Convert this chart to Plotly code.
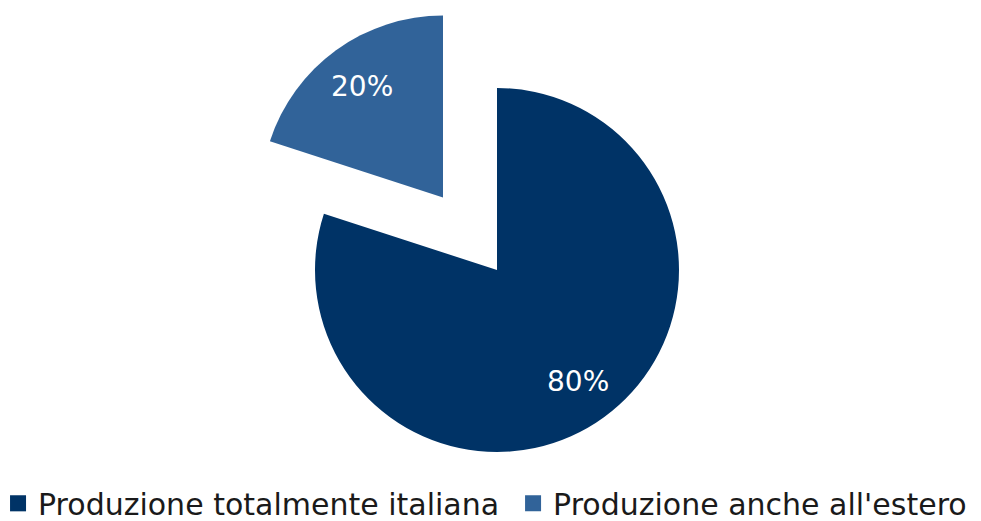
import math
import plotly.graph_objects as go

# Share of production: fully Italian vs. partly abroad
labels = ["Produzione totalmente italiana", "Produzione anche all'estero"]
values = [80, 20]
colors = ["#003366", "#316399"]

FONT = "DejaVu Sans"
W, H = 981, 521
R = 182            # pie radius in px
clear = "rgba(0,0,0,0)"

# Centres (px from top-left) of the main pie and of the detached slice
main_c = (497, 270)
pulled_c = (443, 197.5)


def domain_for(c):
    cx, cy = c
    return dict(x=[(cx - R) / W, (cx + R) / W],
                y=[1 - (cy + R) / H, 1 - (cy - R) / H])


total = sum(values)
fig = go.Figure()

# The 80% slice and the exploded 20% slice are drawn as two pies on offset
# domains; the slice not shown in each is left transparent.
for i, c in enumerate([main_c, pulled_c]):
    slice_cols = [colors[j] if j == i else clear for j in range(len(values))]
    fig.add_trace(go.Pie(
        labels=labels, values=values, sort=False, direction="clockwise",
        rotation=0, marker=dict(colors=slice_cols, line=dict(width=0)),
        textinfo="none", domain=domain_for(c), showlegend=False,
        hoverinfo="label+percent",
    ))

# Percentage labels, placed along each slice's bisector
start = 90.0
for i, (v, c) in enumerate(zip(values, [main_c, pulled_c])):
    sweep = 360.0 * v / total
    mid = math.radians(start - sweep / 2)
    start -= sweep
    px = c[0] + 0.755 * R * math.cos(mid)
    py = c[1] - 0.755 * R * math.sin(mid)
    fig.add_annotation(
        x=px / W, y=1 - py / H, xref="paper", yref="paper",
        text=f"{100 * v / total:.0f}%", showarrow=False,
        xanchor="center", yanchor="middle",
        font=dict(family=FONT, size=28, color="white"),
    )

# Legend entries, one per legend box so each can be positioned on its own
legend_ids = ["legend", "legend2"]
for name, c, lg in zip(labels, colors, legend_ids):
    fig.add_trace(go.Scatter(
        x=[None], y=[None], mode="markers", name=name, legend=lg,
        marker=dict(symbol="square", size=17, color=c),
    ))

legend_style = dict(
    orientation="h", xanchor="left", y=-0.016, yanchor="bottom",
    font=dict(family=FONT, size=30, color="#1a1a1a"),
    itemsizing="trace", bgcolor=clear,
)

fig.update_layout(
    width=W, height=H,
    margin=dict(l=0, r=0, t=0, b=0, autoexpand=False),
    paper_bgcolor="white", plot_bgcolor="white",
    xaxis=dict(visible=False), yaxis=dict(visible=False),
    legend=dict(x=-0.002, **legend_style),
    legend2=dict(x=0.523, **legend_style),
)

fig.write_html("out.html")
